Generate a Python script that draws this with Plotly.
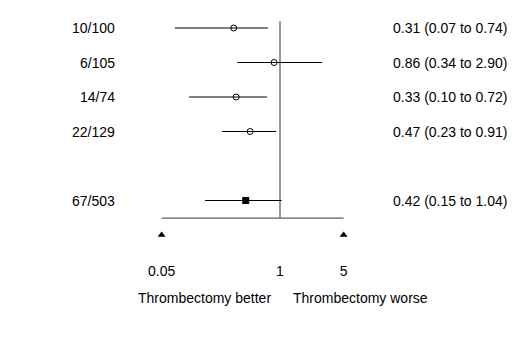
import plotly.graph_objects as go

# Data
counts = ["10/100", "6/105", "14/74", "22/129"]
or_vals = [0.31, 0.86, 0.33, 0.47]
ci_low = [0.07, 0.34, 0.10, 0.23]
ci_high = [0.74, 2.90, 0.72, 0.91]
row_pos = [0, 1, 2, 3]

pooled_count = "67/503"
pooled_or = 0.42
pooled_low = 0.15
pooled_high = 1.04
pooled_pos = 5

tick_vals = [0.05, 1, 5]
tick_text = ["0.05", "1", "5"]
favours = ["Thrombectomy better", "Thrombectomy worse"]

FONT = dict(family="Arial, Liberation Sans, sans-serif", size=14, color="#000000")

fig = go.Figure()

# reference line at 1
fig.add_trace(go.Scatter(x=[1, 1], y=[-0.2, 5.51], mode="lines",
                         line=dict(color="#7f7f7f", width=1.6), hoverinfo="skip"))
# axis line
fig.add_trace(go.Scatter(x=[tick_vals[0], tick_vals[-1]], y=[5.51, 5.51], mode="lines",
                         line=dict(color="#8a8a8a", width=1.6), hoverinfo="skip"))

# study estimates
fig.add_trace(go.Scatter(
    x=or_vals, y=row_pos, mode="markers",
    marker=dict(symbol="circle-open", size=6, color="#000000", line=dict(width=1)),
    error_x=dict(type="data", symmetric=False,
                 array=[h - v for h, v in zip(ci_high, or_vals)],
                 arrayminus=[v - l for v, l in zip(or_vals, ci_low)],
                 color="#000000", thickness=1, width=0),
))

# pooled estimate
fig.add_trace(go.Scatter(
    x=[pooled_or], y=[pooled_pos], mode="markers",
    marker=dict(symbol="square", size=7, color="#000000"),
    error_x=dict(type="data", symmetric=False,
                 array=[pooled_high - pooled_or], arrayminus=[pooled_or - pooled_low],
                 color="#000000", thickness=1, width=0),
))

# end triangles
fig.add_trace(go.Scatter(x=[tick_vals[0], tick_vals[-1]], y=[6.0, 6.0], mode="markers",
                         marker=dict(symbol="triangle-up", size=7, color="#000000")))

# tick labels
fig.add_trace(go.Scatter(x=tick_vals, y=[7.1] * len(tick_vals), mode="text",
                         text=tick_text, textfont=FONT, textposition="middle center"))

annotations = []
all_counts = counts + [pooled_count]
all_pos = row_pos + [pooled_pos]
all_or = or_vals + [pooled_or]
all_lo = ci_low + [pooled_low]
all_hi = ci_high + [pooled_high]
for c, p, v, lo, hi in zip(all_counts, all_pos, all_or, all_lo, all_hi):
    annotations.append(dict(x=117 / 527, y=p, xref="paper", yref="y", text=c,
                            showarrow=False, xanchor="right", yanchor="middle", font=FONT))
    annotations.append(dict(x=391 / 527, y=p, xref="paper", yref="y",
                            text=f"{v:.2f} ({lo:.2f} to {hi:.2f})",
                            showarrow=False, xanchor="left", yanchor="middle", font=FONT))

annotations.append(dict(x=273 / 527, y=7.83, xref="paper", yref="y", text=favours[0],
                        showarrow=False, xanchor="right", yanchor="middle", font=FONT))
annotations.append(dict(x=291 / 527, y=7.83, xref="paper", yref="y", text=favours[1],
                        showarrow=False, xanchor="left", yanchor="middle", font=FONT))

fig.update_layout(
    width=527, height=337,
    margin=dict(l=0, r=0, t=0, b=0),
    paper_bgcolor="#ffffff", plot_bgcolor="#ffffff",
    showlegend=False,
    xaxis=dict(type="log", range=[-280 / 91, 247 / 91], visible=False, fixedrange=True),
    yaxis=dict(range=[(337 - 28) / 34.5, -28 / 34.5], visible=False, fixedrange=True),
    annotations=annotations,
)

fig.write_html("out.html")
